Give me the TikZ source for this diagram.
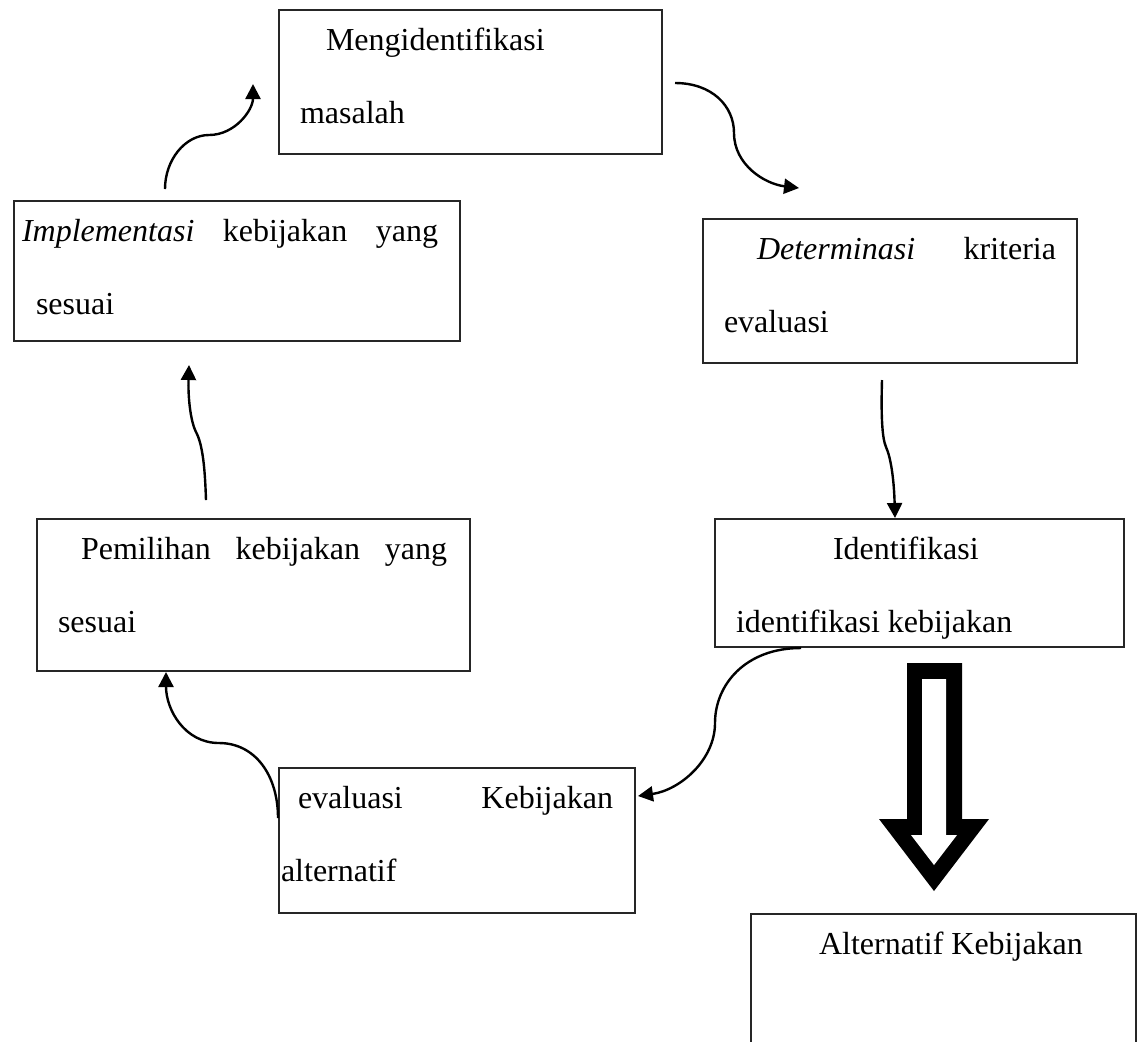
\documentclass[tikz,border=0pt]{standalone}
\usepackage{fontspec}
\setmainfont{Liberation Serif}
\usetikzlibrary{arrows.meta}
\newcommand{\boxtop}{\rule{0pt}{20pt}}
\newcommand{\boxbot}[1]{\rule[-#1]{0pt}{#1}}
\tikzset{%
  >={Triangle[width=7.5pt,length=7.5pt]},
  % Specifications for style of nodes:
  stepbox/.style = {
    rectangle,
    draw=black!85,
    line width=1pt,
    inner sep=0pt,
    anchor=north west,
    align=justify,
    font=\fontsize{16pt}{36.5pt}\selectfont
  },
  conn/.style = {->, line width=1.2pt},
}

\begin{document}
\begin{tikzpicture}[x=0.5pt, y=-0.5pt]
  \useasboundingbox (0,0) rectangle (1144,1041);
  \clip (0,0) rectangle (1144,1041);
  % nodes
  \node (masalah) [stepbox, text width=191.5pt] at (278,9)
  {\boxtop\hspace*{23.5pt}Mengidentifikasi\\
   \hspace*{10.5pt}masalah\boxbot{15.5pt}};
  \node (kriteria) [stepbox, text width=187pt] at (702,218)
  {\boxtop\hspace*{27pt}\textit{Determinasi}\hfill kriteria\hspace*{10.5pt}\\
   \hspace*{10.5pt}evaluasi\boxbot{15.5pt}};
  \node (implementasi) [stepbox, text width=223pt] at (13,200)
  {\boxtop\hspace*{4pt}\textit{Implementasi}\hfill kebijakan\hfill yang\hspace*{11pt}\\
   \hspace*{11pt}sesuai\boxbot{13.5pt}};
  \node (identifikasi) [stepbox, text width=204.5pt] at (714,518)
  {\boxtop\hspace*{59pt}Identifikasi\\
   \hspace*{10.5pt}identifikasi kebijakan\boxbot{7.5pt}};
  \node (pemilihan) [stepbox, text width=216.5pt] at (36,518)
  {\boxtop\hspace*{22pt}Pemilihan\hfill kebijakan\hfill yang\hspace*{11.5pt}\\
   \hspace*{10.5pt}sesuai\boxbot{19.5pt}};
  \node (evaluasi) [stepbox, text width=178pt] at (278,767)
  {\boxtop\hspace*{9.5pt}evaluasi\hfill Kebijakan\hspace*{11pt}\\
   \hspace*{1pt}alternatif\boxbot{16pt}};
  \node (alternatif) [stepbox, text width=192.5pt] at (750,913)
  {\boxtop\hspace*{34pt}Alternatif Kebijakan\boxbot{60pt}};
  % lines
  \draw[conn] ([shift={(12,1)}]masalah.east)
    .. controls (712,83) and (734,106) .. (734,133)
    .. controls (734,165) and (765,184) .. ([shift={(-91,-30)}]kriteria.north);
  \draw[conn] ([shift={(-8,16)}]kriteria.south)
    .. controls (881,415) and (882,438) .. (886,447)
    .. controls (891,458) and (894,480) .. ([shift={(-24.5,0)}]identifikasi.north);
  \draw[conn] ([shift={(-118.5,0)}]identifikasi.south)
    .. controls (745,648) and (715,685) .. (715,723)
    .. controls (715,760) and (680,790) .. ([shift={(2,-44.5)}]evaluasi.east);
  \draw[conn] ([shift={(0,-22.5)}]evaluasi.west)
    .. controls (278,775) and (255,743) .. (219,743)
    .. controls (185,743) and (166,710) .. ([shift={(-87.5,0)}]pemilihan.south);
  \draw[conn] ([shift={(-47.5,-18)}]pemilihan.north)
    .. controls (205,470) and (203,445) .. (196,432)
    .. controls (190,420) and (188,395) .. ([shift={(-48,23)}]implementasi.south);
  \draw[conn] ([shift={(-72,-11)}]implementasi.north)
    .. controls (165,160) and (185,135) .. (209,135)
    .. controls (235,135) and (253,110) .. ([shift={(-25,2)}]masalah.west);
  % hollow arrow
  \fill[black] (907,663) -- (962,663) -- (962,819) -- (989,819)
    -- (934,891) -- (879,819) -- (907,819) -- cycle;
  \fill[white] (922,679) -- (946,679) -- (946,835) -- (957,835)
    -- (934,865) -- (911,835) -- (922,835) -- cycle;
\end{tikzpicture}
\end{document}
